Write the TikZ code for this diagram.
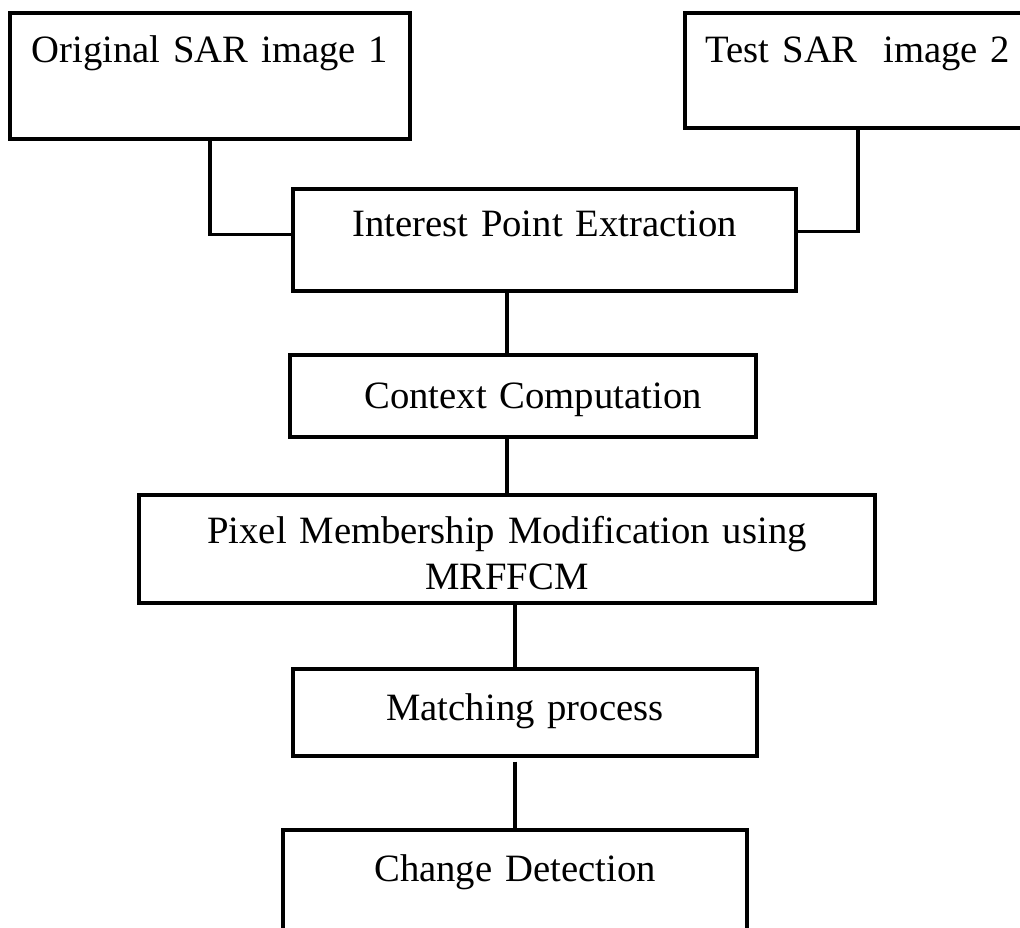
\documentclass[tikz,border=0pt]{standalone}
\usepackage{fontspec}
\setmainfont{Liberation Serif}

\begin{document}
\begin{tikzpicture}[x=0.01cm, y=-0.01cm]
        \tikzstyle{stage} = [draw, line width=1pt, anchor=north, inner sep=0pt, align=center, font=\fontsize{11pt}{13.1pt}\selectfont]
        \tikzstyle{link} = [line width=0.9pt]
        \clip (0,0) rectangle (1020,928);
        \node[stage, text width=4cm, text height=0.5cm, text depth=0.76cm] (orig) at (210,11) {Original SAR image 1};
        \node[stage, text width=3.46cm, text height=0.5cm, text depth=0.65cm] (test) at (858,11) {Test SAR~~image 2};
        \node[stage, text width=5.03cm, text height=0.48cm, text depth=0.54cm] (ipe) at (544.5,187) {Interest Point Extraction};
        \node[stage, text width=4.66cm, text height=0.54cm, text depth=0.28cm] (ctx) at (523,353) {\hspace{0.2cm}Context Computation};
        \node[stage, text width=7.36cm, text height=0.49cm, text depth=0.59cm] (pix) at (507,493) {Pixel Membership Modification using\\MRFFCM};
        \node[stage, text width=4.64cm, text height=0.52cm, text depth=0.35cm] (match) at (525,667) {Matching process};
        \node[stage, text width=4.64cm, text height=0.52cm, text depth=0.74cm] (chg) at (515,828) {Change Detection};
        % the two inputs join the first stage from both sides
        \draw[link] (orig.south) |- ([yshift=0.05cm]ipe.west);
        \draw[link] (test.south) |- ([yshift=0.08cm]ipe.east);
        \path[link]
        (ipe.south -| pix.north) edge (ctx.north -| pix.north)
        (ctx.south -| pix.north) edge (pix.north)
        (pix.south -| chg.north) edge (match.north -| chg.north)
        (match.south -| chg.north) edge[shorten <=0.04cm] (chg.north);
    \end{tikzpicture}
\end{document}
